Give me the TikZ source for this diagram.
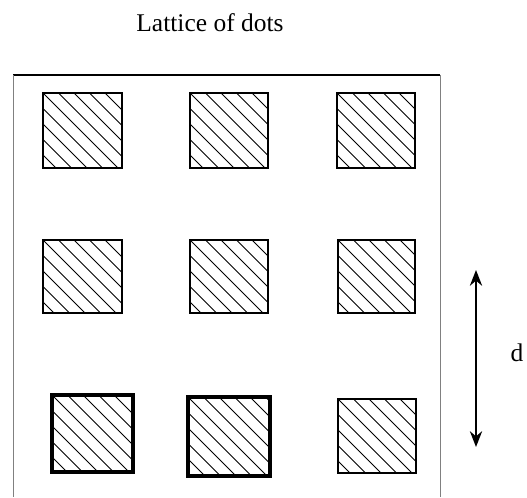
\documentclass[tikz,border=0pt]{standalone}
\usepackage{fontspec}
\setmainfont{Liberation Serif}
\usetikzlibrary{arrows.meta,positioning,calc}

\tikzset{
  dotsq/.style={draw, line width=1.1pt, inner sep=0pt,
    path picture={
      \foreach \k in {-9,...,9}
        \draw[line width=0.5pt] ([xshift=\k*0.31cm]path picture bounding box.north west) ++(135:2cm) -- ++(-45:6cm);
    }},
  boldsq/.style={dotsq, line width=1.9pt},
  lbl/.style={font=\fontsize{14.5}{17}\selectfont, inner sep=0pt, anchor=base}
}

\begin{document}
\begin{tikzpicture}[x=0.02cm, y=0.02cm]
    \useasboundingbox (0,0) rectangle (527,497);

    % title
    \node[lbl] (title) at (210,465) {Lattice of dots};

    % frame
    \draw[line width=1.1pt] (13,422) -- (440,422);
    \draw[gray, line width=0.5pt] (13,422) -- (13,0);
    \draw[gray, line width=0.5pt] (440,422) -- (440,0);

    % top row
    \node[dotsq, minimum width=1.58cm, minimum height=1.5cm] (s11) at (82.5,366.5) {};
    \node[dotsq, minimum width=1.56cm, minimum height=1.5cm] (s12) at (229,366.5) {};
    \node[dotsq, minimum width=1.56cm, minimum height=1.5cm] (s13) at (376,366.5) {};

    % middle row
    \node[dotsq, minimum width=1.58cm, minimum height=1.46cm] (s21) at (82.5,220.5) {};
    \node[dotsq, minimum width=1.56cm, minimum height=1.46cm] (s22) at (229,220.5) {};
    \node[dotsq, minimum width=1.54cm, minimum height=1.46cm] (s23) at (376.5,220.5) {};

    % bottom row
    \node[boldsq, minimum width=1.62cm, minimum height=1.54cm] (s31) at (92.5,63.5) {};
    \node[boldsq, minimum width=1.64cm, minimum height=1.58cm] (s32) at (229,60.5) {};
    \node[dotsq, minimum width=1.56cm, minimum height=1.48cm] (s33) at (377,61) {};

    % spacing
    \coordinate (dtop) at (476,227);
    \coordinate (dbot) at (476,50);
    \draw[{Stealth[length=9pt,width=7pt]}-{Stealth[length=9pt,width=7pt]}, line width=0.9pt] (dtop) -- (dbot);
    \node[lbl] (dlabel) at (517,135) {d};
\end{tikzpicture}
\end{document}
